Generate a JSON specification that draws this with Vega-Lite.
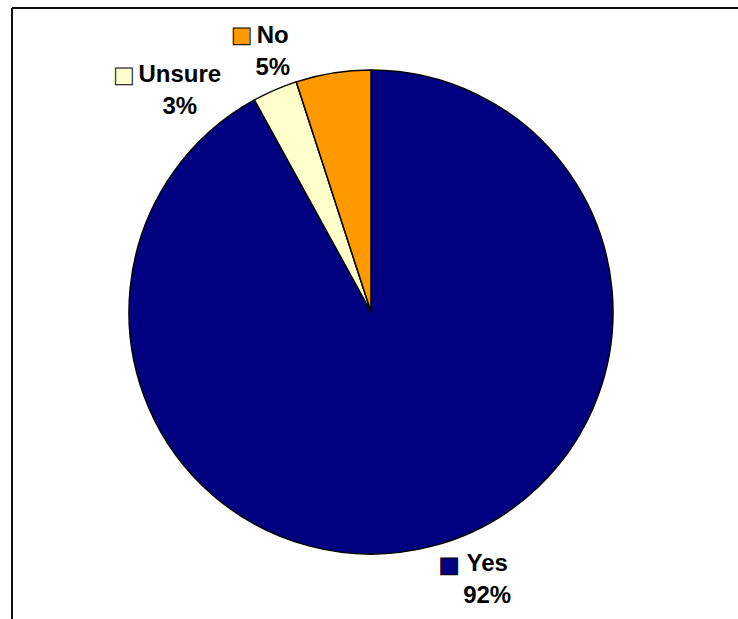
{
  "$schema": "https://vega.github.io/schema/vega-lite/v6.json",
  "width": 718,
  "height": 608,
  "autosize": {"type": "none"},
  "padding": {"left": 12, "top": 8, "right": 8, "bottom": 3},
  "background": "white",
  "config": {
    "view": {"stroke": null},
    "text": {"font": "Liberation Sans"}
  },
  "data": {
    "values": [
      {"answer": "Yes", "percent": 92, "order": 1},
      {"answer": "Unsure", "percent": 3, "order": 2},
      {"answer": "No", "percent": 5, "order": 3}
    ]
  },
  "transform": [
    {"stack": "percent", "groupby": [], "sort": [{"field": "order"}], "as": ["p0", "p1"]},
    {"calculate": "(datum.p0 + datum.p1) / 2", "as": "pmid"},
    {"calculate": "datum.answer + '\\n' + datum.percent + '%'", "as": "label"}
  ],
  "layer": [
    {
      "mark": {"type": "rule", "stroke": "#111111", "strokeWidth": 2},
      "encoding": {"x": {"value": 0}, "x2": {"value": {"expr": "width + 12"}}, "y": {"value": 0}}
    },
    {
      "mark": {"type": "rule", "stroke": "#111111", "strokeWidth": 2},
      "encoding": {"x": {"value": 0}, "y": {"value": 0}, "y2": {"value": {"expr": "height + 8"}}}
    },
    {
      "mark": {"type": "arc", "outerRadius": 242, "stroke": "#000000", "strokeWidth": 1.5},
      "encoding": {
        "theta": {"field": "p0", "type": "quantitative", "stack": null, "scale": {"domain": [0, 100]}},
        "theta2": {"field": "p1"},
        "color": {"field": "answer", "type": "nominal", "scale": {"domain": ["Yes", "Unsure", "No"], "range": ["#000080", "#FFFFCC", "#FF9900"]}, "legend": null}
      }
    },
    {
      "transform": [{"filter": "datum.answer == 'Yes'"}],
      "mark": {"type": "text", "radius": 270, "dx": 49, "dy": -2.5, "align": "center", "baseline": "alphabetic", "fontSize": 24, "fontWeight": "bold", "lineBreak": "\n", "lineHeight": 32, "color": "#000000"},
      "encoding": {
        "theta": {"field": "pmid", "type": "quantitative", "stack": null, "scale": {"domain": [0, 100]}},
        "text": {"field": "label"}
      }
    },
    {
      "transform": [{"filter": "datum.answer == 'Unsure'"}],
      "mark": {"type": "text", "radius": 270, "dx": -84, "dy": 18, "align": "center", "baseline": "alphabetic", "fontSize": 24, "fontWeight": "bold", "lineBreak": "\n", "lineHeight": 32, "color": "#000000"},
      "encoding": {
        "theta": {"field": "pmid", "type": "quantitative", "stack": null, "scale": {"domain": [0, 100]}},
        "text": {"field": "label"}
      }
    },
    {
      "transform": [{"filter": "datum.answer == 'No'"}],
      "mark": {"type": "text", "radius": 270, "dx": -56, "dy": -2.3, "align": "center", "baseline": "alphabetic", "fontSize": 24, "fontWeight": "bold", "lineBreak": "\n", "lineHeight": 32, "color": "#000000"},
      "encoding": {
        "theta": {"field": "pmid", "type": "quantitative", "stack": null, "scale": {"domain": [0, 100]}},
        "text": {"field": "label"}
      }
    },
    {
      "transform": [{"filter": "datum.answer == 'Yes'"}],
      "mark": {"type": "text", "radius": 270, "dx": 11, "dy": -9, "align": "center", "baseline": "middle", "font": "DejaVu Sans", "fontSize": 22, "stroke": "#000000", "strokeWidth": 1},
      "encoding": {
        "theta": {"field": "pmid", "type": "quantitative", "stack": null, "scale": {"domain": [0, 100]}},
        "text": {"value": "■"},
        "color": {"field": "answer", "type": "nominal", "scale": {"domain": ["Yes", "Unsure", "No"], "range": ["#000080", "#FFFFCC", "#FF9900"]}, "legend": null}
      }
    },
    {
      "transform": [{"filter": "datum.answer == 'Unsure'"}],
      "mark": {"type": "text", "radius": 270, "dx": -140, "dy": 11, "align": "center", "baseline": "middle", "font": "DejaVu Sans", "fontSize": 22, "stroke": "#000000", "strokeWidth": 1},
      "encoding": {
        "theta": {"field": "pmid", "type": "quantitative", "stack": null, "scale": {"domain": [0, 100]}},
        "text": {"value": "■"},
        "color": {"field": "answer", "type": "nominal", "scale": {"domain": ["Yes", "Unsure", "No"], "range": ["#000080", "#FFFFCC", "#FF9900"]}, "legend": null}
      }
    },
    {
      "transform": [{"filter": "datum.answer == 'No'"}],
      "mark": {"type": "text", "radius": 270, "dx": -87, "dy": -10, "align": "center", "baseline": "middle", "font": "DejaVu Sans", "fontSize": 22, "stroke": "#000000", "strokeWidth": 1},
      "encoding": {
        "theta": {"field": "pmid", "type": "quantitative", "stack": null, "scale": {"domain": [0, 100]}},
        "text": {"value": "■"},
        "color": {"field": "answer", "type": "nominal", "scale": {"domain": ["Yes", "Unsure", "No"], "range": ["#000080", "#FFFFCC", "#FF9900"]}, "legend": null}
      }
    }
  ]
}
